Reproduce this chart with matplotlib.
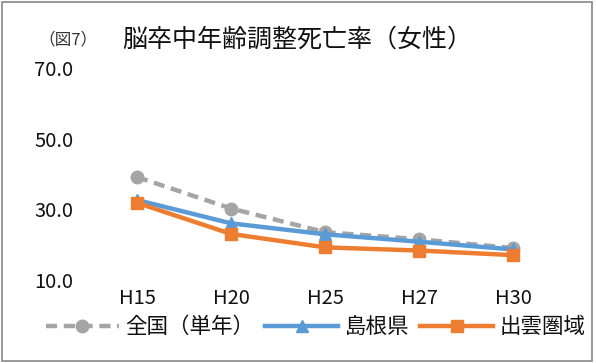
import matplotlib
matplotlib.use("Agg")
import matplotlib.pyplot as plt
from matplotlib.patches import Rectangle

plt.rcParams['font.family'] = ['Noto Sans CJK JP', 'DejaVu Sans']

# データ
years = ["H15", "H20", "H25", "H27", "H30"]
zenkoku = [39.1, 30.2, 23.5, 21.5, 19.0]      # 全国（単年）
shimane = [32.6, 26.0, 22.9, 20.8, 18.6]      # 島根県
izumo = [31.8, 23.0, 19.2, 18.3, 17.0]        # 出雲圏域
yticks = [10, 30, 50, 70]

fig = plt.figure(figsize=(5.96, 3.63), dpi=100)
ax = fig.add_axes([0.151, 0.229, 0.789, 0.584])

x = range(len(years))
ax.plot(x, zenkoku, color="#a5a5a5", lw=3.2, ls=(0, (2.5, 1.5)), marker="o",
        ms=9, label="全国（単年）")
ax.plot(x, shimane, color="#5b9bd5", lw=3.2, marker="^", ms=8, label="島根県")
ax.plot(x, izumo, color="#ed7d31", lw=3.2, marker="s", ms=8, label="出雲圏域")

ax.set_xlim(-0.5, len(years) - 0.5)
ax.set_ylim(10, 70)
ax.set_yticks(yticks)
ax.set_yticklabels(["%.1f" % v for v in yticks], fontsize=14.5, color="#111111")
ax.set_xticks(list(x))
ax.set_xticklabels(years, fontsize=14.5, color="#111111")
ax.tick_params(length=0, pad=6)
ax.tick_params(axis="y", pad=12)
for s in ax.spines.values():
    s.set_visible(False)

fig.text(0.065, 0.89, "（図7）", fontsize=12, color="#333333", va="center")
fig.text(0.205, 0.89, "脳卒中年齢調整死亡率（女性）", fontsize=18, color="#111111", va="center")

leg = fig.legend(loc="center", bbox_to_anchor=(0.53, 0.098), ncol=3, frameon=False,
                 fontsize=15.5, handlelength=3.4, columnspacing=0.5, handletextpad=0.3)
for t in leg.get_texts():
    t.set_color("#111111")

fig.patches.append(Rectangle((0.003, 0.005), 0.99, 0.99, transform=fig.transFigure,
                             fill=False, ec="#888888", lw=1.2))

fig.savefig("out.png", dpi=100)
